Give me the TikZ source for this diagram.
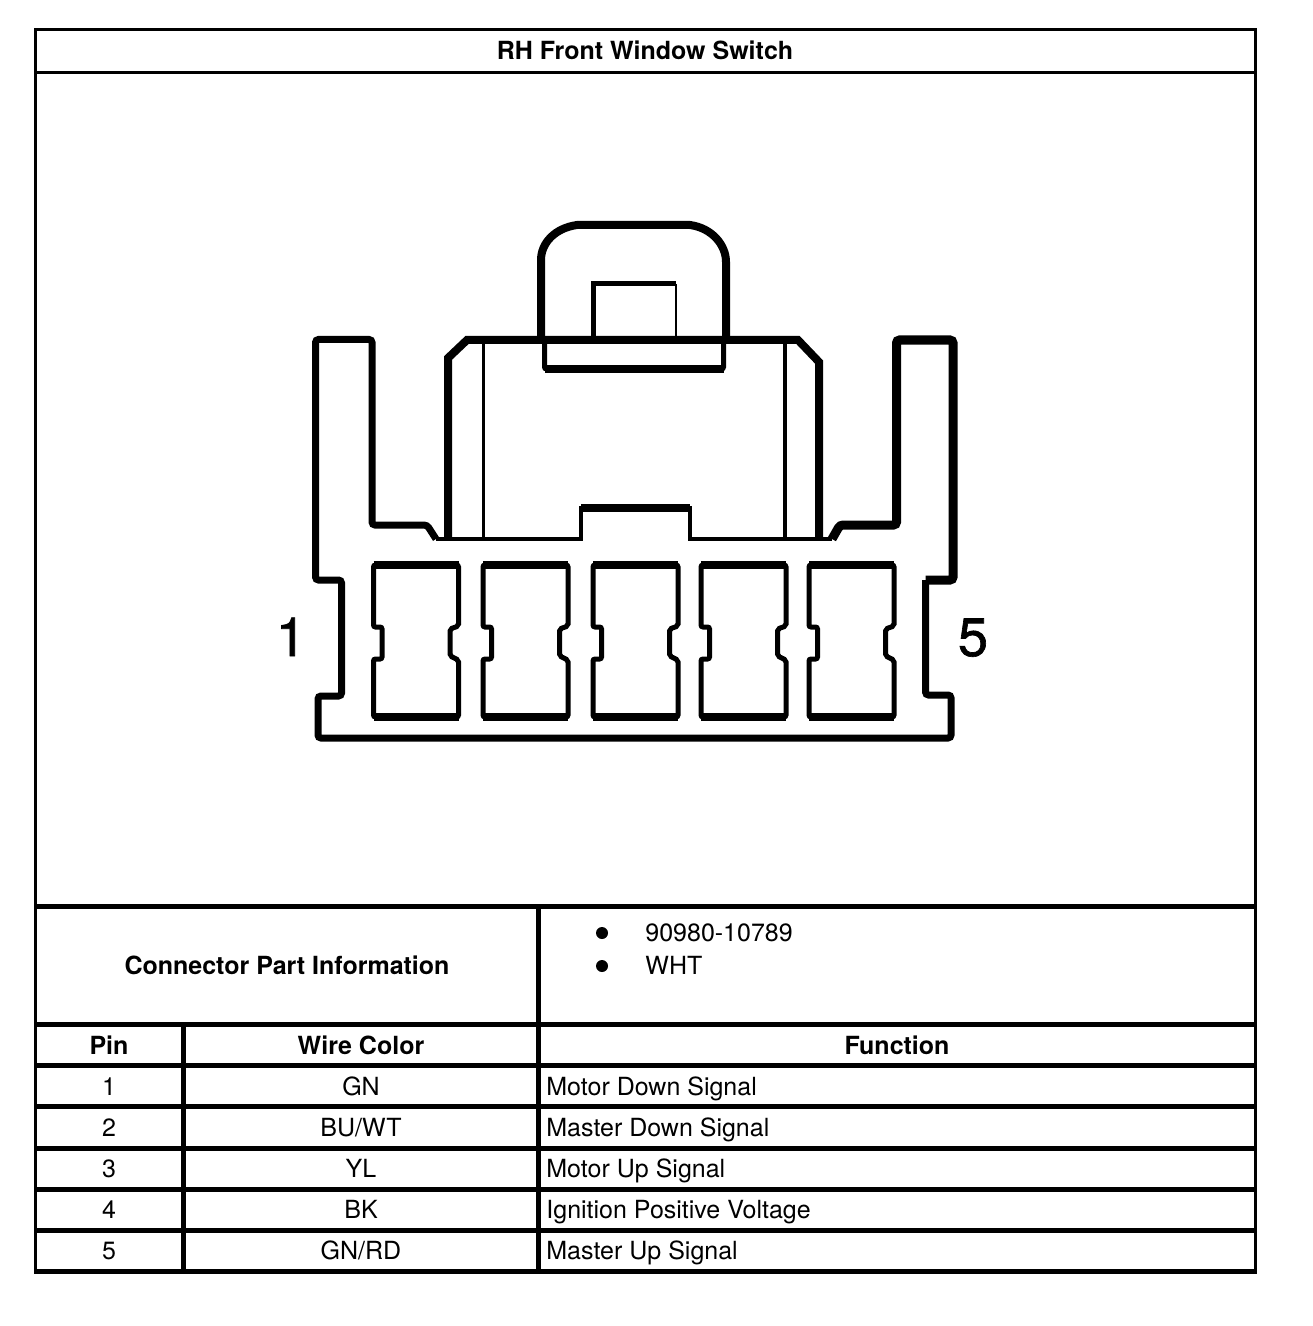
\documentclass[tikz,border=0pt]{standalone}
\usepackage{fontspec}
\setmainfont{TeX Gyre Heros}
\newfontfamily\markfont[FakeBold=1.2]{TeX Gyre Heros}
\tikzset{
    framerule/.style={line width=1.5pt},
    rowrule/.style={line width=2.5pt},
    wall/.style={line width=3.5pt,rounded corners=1.5pt},
    heavywall/.style={line width=4.5pt,rounded corners=1.5pt},
    cavity/.style={line width=2.5pt,rounded corners=1pt},
    cell/.style={inner sep=0,anchor=base,font=\fontsize{12.5}{15}\selectfont},
    headcell/.style={cell,font=\fontsize{12.5}{15}\selectfont\bfseries},
    funccell/.style={cell,anchor=base west},
    pinmark/.style={inner sep=0,anchor=base,font=\markfont\fontsize{27}{30}\selectfont},
    dotmark/.style={fill=black,circle,inner sep=0,minimum size=6pt}
}
\begin{document}
\begin{tikzpicture}[x=.5pt,y=-.5pt]
        \useasboundingbox(0,0)rectangle(1312,1326);
        \draw[framerule](35.5,1271.5)--(35.5,29.5)--(1255.5,29.5)--(1255.5,1271.5);
        \draw[framerule](35.5,72.5)--(1255.5,72.5);
        \draw[rowrule](35.5,906.5)--(1255.5,906.5);
        \draw[rowrule](35.5,1024.5)--(1255.5,1024.5);
        \draw[rowrule](35.5,1065.5)--(1255.5,1065.5);
        \draw[rowrule](35.5,1106.5)--(1255.5,1106.5);
        \draw[rowrule](35.5,1148)--(1255.5,1148);
        \draw[rowrule](35.5,1189)--(1255.5,1189);
        \draw[rowrule](35.5,1230.5)--(1255.5,1230.5);
        \draw[rowrule](34,1271.5)--(1257,1271.5);
        \draw[rowrule](538.5,906.5)--(538.5,1271.5);
        \draw[rowrule](183.5,1024.5)--(183.5,1271.5);
        \node[headcell](title)at(645,59.5){RH Front Window Switch};
        \node[headcell](partinfo)at(287,974){Connector Part Information};
        \node[dotmark](dotone)at(602,933){};
        \node[dotmark](dottwo)at(602,966){};
        \node[funccell](partnumber)at(645,941){90980-10789};
        \node[funccell](partcolor)at(645,974){WHT};
        \node[headcell](headpin)at(109,1054){Pin};
        \node[headcell](headwire)at(361,1054){Wire Color};
        \node[headcell](headfunc)at(897,1054){Function};
        \node[cell](pinone)at(109,1095.5){1};
        \node[cell](wireone)at(361,1095.5){GN};
        \node[funccell](funcone)at(546,1095.5){Motor Down Signal};
        \node[cell](pintwo)at(109,1136.5){2};
        \node[cell](wiretwo)at(361,1136.5){BU/WT};
        \node[funccell](functwo)at(546,1136.5){Master Down Signal};
        \node[cell](pinthree)at(109,1177.5){3};
        \node[cell](wirethree)at(361,1177.5){YL};
        \node[funccell](functhree)at(546,1177.5){Motor Up Signal};
        \node[cell](pinfour)at(109,1218.5){4};
        \node[cell](wirefour)at(361,1218.5){BK};
        \node[funccell](funcfour)at(546,1218.5){Ignition Positive Voltage};
        \node[cell](pinfive)at(109,1259.5){5};
        \node[cell](wirefive)at(361,1259.5){GN/RD};
        \node[funccell](funcfive)at(546,1259.5){Master Up Signal};
        \node[pinmark](markone)at(291,656){1};
        \node[pinmark](markfive)at(973,656){5};
        \draw[wall](436,539)--(427,525)--(372,525)--(372,339.5)--(315.5,339.5)--(315.5,580)--(341.5,580)--(341.5,696)--(318,696)--(318,738)--(951,738)--(951,695)--(925.5,695)--(925.5,580);
        \draw[heavywall](925.5,580)--(953,580)--(953,340)--(896.5,340)--(896.5,525)--(840,525)--(832,539);
        \draw[line width=2.25pt](436,539)--(581,539)--(581,508)--(690,508)--(690,539)--(832,539);
        \draw[line width=4pt](581,508)--(690,508);
        \draw[line width=4pt](448,539)--(448,358)--(467,340)--(798,340)--(819,362)--(819,539);
        \draw[line width=1.5pt](483.5,340)--(483.5,539);
        \draw[line width=2pt](784.5,340)--(784.5,539);
        \draw[line width=4pt](541,340)--(541,260).. controls (541,243) and (555,228) ..(577,225)--(690,225).. controls (712,228) and (726,245) ..(726,262)--(726,340);
        \draw[line width=2.5pt](593,340)--(593,284)--(676,284);
        \draw[line width=1pt](676,284)--(676,340);
        \draw[cavity](544.5,340)--(544.5,369)--(723.5,369)--(723.5,340);
        \draw[line width=4pt](544.5,369)--(723.5,369);
        \foreach \cx in {373.5,483,593,701,809}{
            \draw[cavity](\cx,565)--(\cx+85,565)--(\cx+85,626)--(\cx+76.5,629)--(\cx+76.5,656)--(\cx+85,660)--(\cx+85,717)--(\cx,717)--(\cx,659)--(\cx+8.5,659)--(\cx+8.5,627)--(\cx,627)--cycle;
            \draw[line width=4pt](\cx,565)--(\cx+85,565);
            \draw[line width=4pt](\cx,717)--(\cx+85,717);
        }
    \end{tikzpicture}
\end{document}
